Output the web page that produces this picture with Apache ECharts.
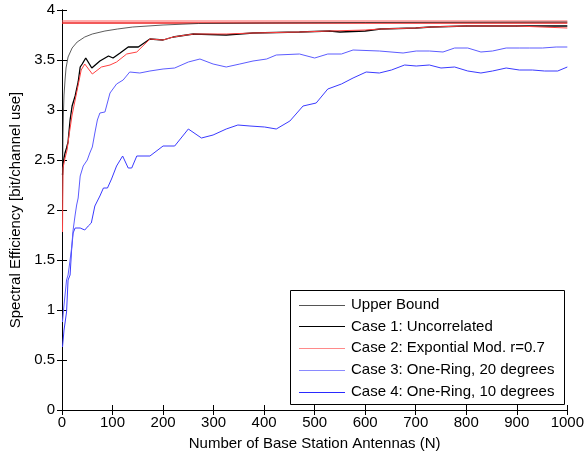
<!DOCTYPE html>
<html>
<head>
<meta charset="utf-8">
<script src="https://cdn.jsdelivr.net/npm/echarts@6/dist/echarts.min.js"></script>
<style>
  html, body { margin: 0; padding: 0; background: #fff; }
  #chart { width: 587px; height: 456px; }
</style>
</head>
<body>
<div id="chart"></div>
<script>
// antenna counts N and spectral efficiency per curve
const upperN = [1, 2, 3, 4, 6, 8, 12, 20, 30, 45, 60, 85, 110, 140, 200, 270, 400, 600, 1000];
const upperV = [2.1, 2.75, 3.0, 3.15, 3.3, 3.42, 3.53, 3.62, 3.68, 3.73, 3.76, 3.79, 3.81, 3.83, 3.85, 3.865, 3.87, 3.875, 3.88];

const case1N = [1, 2, 4, 6, 9, 12, 16, 20, 26, 32, 36, 40, 47, 59, 75, 92, 101, 115, 131, 151, 174, 200, 220, 260, 325, 378, 470, 530, 550, 600, 630, 700, 730, 800, 860, 1000];
const case1V = [2.35, 2.45, 2.52, 2.57, 2.62, 2.68, 2.9, 3.04, 3.14, 3.28, 3.43, 3.46, 3.52, 3.42, 3.49, 3.54, 3.52, 3.57, 3.63, 3.63, 3.71, 3.7, 3.73, 3.76, 3.75, 3.77, 3.78, 3.79, 3.78, 3.79, 3.81, 3.82, 3.83, 3.84, 3.84, 3.84];

const case2N = [1, 2, 4, 6, 10, 14, 20, 26, 32, 38, 45, 60, 78, 95, 108, 128, 148, 174, 200, 220, 260, 325, 378, 470, 530, 600, 630, 700, 730, 800, 900, 950, 1000];
const case2V = [1.78, 2.42, 2.47, 2.52, 2.6, 2.75, 2.95, 3.1, 3.25, 3.4, 3.46, 3.36, 3.43, 3.45, 3.48, 3.56, 3.58, 3.71, 3.7, 3.73, 3.76, 3.76, 3.77, 3.78, 3.79, 3.8, 3.81, 3.82, 3.83, 3.84, 3.84, 3.83, 3.82];

const case3N = [1, 3, 6, 9, 12, 16, 19, 22, 26, 29, 32, 36, 42, 50, 55, 60, 65, 70, 75, 85, 95, 108, 121, 134, 154, 174, 200, 223, 250, 273, 299, 325, 352, 378, 405, 424, 470, 500, 526, 553, 576, 628, 675, 701, 727, 754, 777, 803, 829, 852, 879, 905, 925, 951, 978, 1000];
const case3V = [0.88, 1.0, 1.15, 1.3, 1.35, 1.5, 1.62, 1.8, 1.95, 2.05, 2.12, 2.34, 2.44, 2.5, 2.57, 2.63, 2.77, 2.9, 2.97, 2.98, 3.17, 3.26, 3.3, 3.38, 3.37, 3.39, 3.41, 3.42, 3.48, 3.51, 3.46, 3.43, 3.46, 3.49, 3.51, 3.55, 3.56, 3.52, 3.56, 3.56, 3.6, 3.59, 3.57, 3.59, 3.59, 3.58, 3.62, 3.62, 3.58, 3.59, 3.62, 3.62, 3.62, 3.62, 3.63, 3.63];

const case4N = [1, 4, 9, 12, 16, 19, 22, 26, 36, 45, 52, 58, 65, 75, 82, 90, 98, 108, 120, 131, 138, 148, 174, 200, 223, 250, 276, 299, 325, 348, 372, 401, 424, 451, 477, 503, 526, 553, 576, 602, 628, 652, 678, 701, 727, 750, 777, 803, 829, 852, 879, 905, 931, 955, 981, 1000];
const case4V = [0.63, 0.8, 0.98, 1.3, 1.35, 1.6, 1.77, 1.82, 1.82, 1.8, 1.84, 1.87, 2.04, 2.14, 2.22, 2.22, 2.31, 2.44, 2.54, 2.42, 2.42, 2.54, 2.54, 2.64, 2.64, 2.81, 2.72, 2.75, 2.81, 2.85, 2.84, 2.83, 2.81, 2.89, 3.04, 3.07, 3.21, 3.26, 3.32, 3.38, 3.37, 3.4, 3.45, 3.44, 3.45, 3.42, 3.43, 3.39, 3.37, 3.39, 3.42, 3.4, 3.4, 3.39, 3.39, 3.43];

// the two flat red lines near the top
const flatN = [0, 1000];
const flatHigh = [3.89, 3.89];
const flatLow = [3.87, 3.87];

const legendNames = [
  "Upper Bound",
  "Case 1: Uncorrelated",
  "Case 2: Expontial Mod. r=0.7",
  "Case 3: One-Ring, 20 degrees",
  "Case 4: One-Ring, 10 degrees",
];

const pairs = (xs, ys) => xs.map((x, i) => [x, ys[i]]);
const FONT = "Liberation Sans, Arial, sans-serif";

const chart = echarts.init(document.getElementById("chart"), null, { renderer: "canvas" });

function lineSeries(name, xs, ys, color, width, z) {
  return {
    name: name,
    type: "line",
    data: pairs(xs, ys),
    symbol: "none",
    smooth: false,
    animation: false,
    z: z || 2,
    lineStyle: { color: color, width: width },
    itemStyle: { color: color },
  };
}

// key box, matlab style: sample line + label per row
// (the dotted samples of case 2/3 show up as pale lines)
const keyColors = ["#555", "#000", "#ff8a8a", "#8a8aff", "#2a2aff"];
const keyChildren = [
  {
    type: "rect",
    shape: { x: 0.5, y: 0.5, width: 274, height: 114 },
    style: { fill: "#fff", stroke: "#000", lineWidth: 1 },
  },
];
legendNames.forEach((name, i) => {
  const y = 14.5 + i * 21.9;
  keyChildren.push({
    type: "line",
    shape: { x1: 9, y1: Math.round(y) + 0.5, x2: 55, y2: Math.round(y) + 0.5 },
    style: { stroke: keyColors[i], lineWidth: 1 },
  });
  keyChildren.push({
    type: "text",
    x: 61,
    y: y,
    style: { text: name, font: "15px " + FONT, fill: "#000", verticalAlign: "middle" },
  });
});

const tickStyle = { show: true, inside: true, length: 5, lineStyle: { color: "#000", width: 1 } };

const option = {
  backgroundColor: "#fff",
  animation: false,
  textStyle: { fontFamily: FONT },
  grid: { left: 62, right: 17, top: 10, bottom: 45, containLabel: false },
  graphic: [
    { type: "group", left: 290, top: 290, z: 100, children: keyChildren },
  ],
  xAxis: [
    {
      type: "value",
      min: 0,
      max: 1000,
      interval: 100,
      position: "bottom",
      name: "Number of Base Station Antennas (N)",
      nameLocation: "middle",
      nameGap: 26,
      nameTextStyle: { fontFamily: FONT, fontSize: 15, color: "#000" },
      axisLine: { show: true, lineStyle: { color: "#000", width: 1 } },
      axisTick: tickStyle,
      axisLabel: { fontFamily: FONT, fontSize: 15, color: "#000", margin: 5, formatter: (v) => String(v) },
      splitLine: { show: false },
    },
    {
      type: "value",
      min: 0,
      max: 1000,
      interval: 100,
      position: "top",
      axisLine: { show: true, lineStyle: { color: "#000", width: 1 } },
      axisTick: tickStyle,
      axisLabel: { show: false },
      splitLine: { show: false },
    },
  ],
  yAxis: [
    {
      type: "value",
      min: 0,
      max: 4,
      interval: 0.5,
      position: "left",
      name: "Spectral Efficiency [bit/channel use]",
      nameLocation: "middle",
      nameGap: 37,
      nameTextStyle: { fontFamily: FONT, fontSize: 15, color: "#000" },
      axisLine: { show: true, lineStyle: { color: "#000", width: 1 } },
      axisTick: tickStyle,
      axisLabel: { fontFamily: FONT, fontSize: 15, color: "#000", margin: 7 },
      splitLine: { show: false },
    },
    {
      type: "value",
      min: 0,
      max: 4,
      interval: 0.5,
      position: "right",
      axisLine: { show: true, lineStyle: { color: "#000", width: 1 } },
      axisTick: tickStyle,
      axisLabel: { show: false },
      splitLine: { show: false },
    },
  ],
  series: [
    lineSeries("flatHigh", flatN, flatHigh, "#ff5a5a", 1, 1),
    lineSeries("flatLow", flatN, flatLow, "#ee2222", 1.6, 1),
    lineSeries(legendNames[4], case4N, case4V, "#3a3aff", 1),
    lineSeries(legendNames[3], case3N, case3V, "#5c5cff", 1),
    lineSeries(legendNames[0], upperN, upperV, "#333", 0.8),
    lineSeries(legendNames[1], case1N, case1V, "#000", 1.3, 3),
    lineSeries(legendNames[2], case2N, case2V, "#ff4040", 1, 4),
  ],
};

chart.setOption(option);
</script>
</body>
</html>
